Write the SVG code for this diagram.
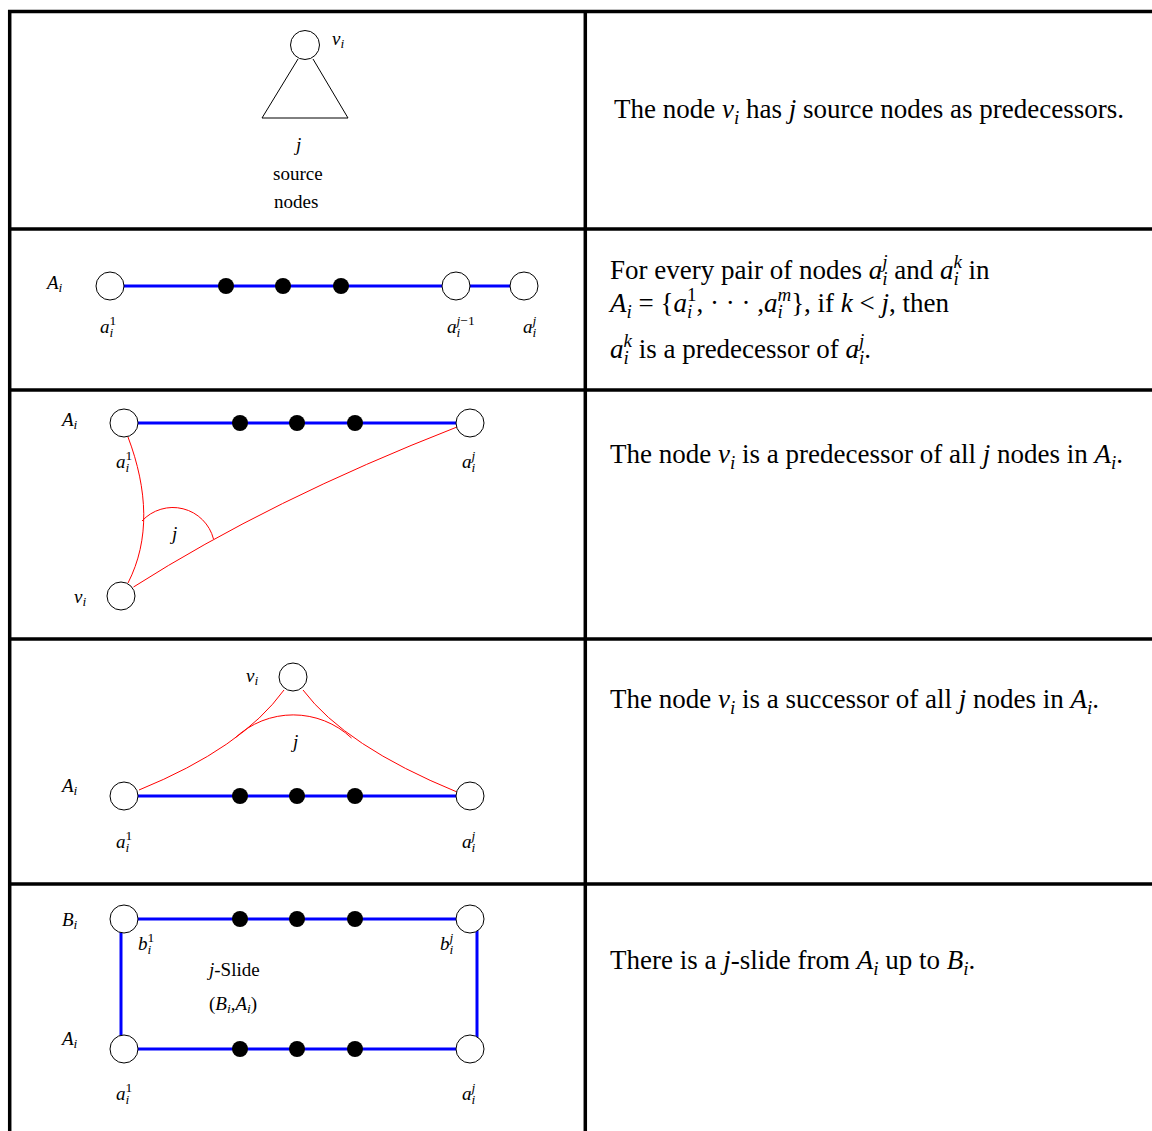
<svg xmlns="http://www.w3.org/2000/svg" width="1152" height="1131" viewBox="0 0 1152 1131">
<style>
text{font-family:"Liberation Serif","Times New Roman",serif;fill:#000}
.d{font-size:19px}
.p{font-size:27px}
.it{font-style:italic}
.sb{font-size:13.5px}
.sp{font-size:19px}
.grid{stroke:#000;stroke-width:3.5;fill:none}
.node{fill:#fff;stroke:#000;stroke-width:1}
.dot{fill:#000}
.blue{stroke:#0000ff;stroke-width:3;fill:none}
.red{stroke:#ff0000;stroke-width:1;fill:none}
.tri{stroke:#000;stroke-width:1;fill:none}
</style>
<rect width="1152" height="1131" fill="#fff"/>

<g id="table">
<line class="grid" x1="8" y1="11.5" x2="1152" y2="11.5"/>
<line class="grid" x1="9.7" y1="10" x2="9.7" y2="1131"/>
<line class="grid" x1="585.3" y1="10" x2="585.3" y2="1131"/>
<line class="grid" x1="8" y1="229" x2="1152" y2="229"/>
<line class="grid" x1="8" y1="390" x2="1152" y2="390"/>
<line class="grid" x1="8" y1="639" x2="1152" y2="639"/>
<line class="grid" x1="8" y1="884" x2="1152" y2="884"/>
</g>

<g id="connectors">
<path class="tri" d="M298,59 L262,118 L348,118 L313,59"/>
<line class="blue" x1="110" y1="286" x2="524" y2="286"/>
<line class="blue" x1="124" y1="423" x2="470" y2="423"/>
<path class="red" d="M128,437 C148,490 150,540 128,583"/>
<path class="red" d="M133.5,587 Q270,500 457,427"/>
<path class="red" d="M142,521 A42,42 0 0 1 213.5,539"/>
<line class="blue" x1="124" y1="796" x2="470" y2="796"/>
<path class="red" d="M284,690 Q242,748 139,790"/>
<path class="red" d="M303,690 Q345,746 457,792"/>
<path class="red" d="M235,738 A85,85 0 0 1 351.5,738"/>
<line class="blue" x1="124" y1="919" x2="470" y2="919"/>
<line class="blue" x1="124" y1="1049" x2="470" y2="1049"/>
<line class="blue" x1="121" y1="919" x2="121" y2="1049"/>
<line class="blue" x1="477" y1="919" x2="477" y2="1049"/>
</g>

<!-- Row 1 -->
<g id="r1-v">
<circle class="node" cx="305" cy="45" r="14.5"/>
<text class="d" x="332" y="45"><tspan class="it">v</tspan><tspan class="it sb" dy="3">i</tspan></text>
</g>
<g id="r1-labels">
<text class="d it" x="296" y="151">j</text>
<text class="d" x="273" y="180">source</text>
<text class="d" x="274" y="208">nodes</text>
</g>
<g id="r1-text">
<text class="p" x="614" y="118">The node <tspan class="it">v</tspan><tspan class="it sp" dy="6">i</tspan><tspan dy="-6"> has </tspan><tspan class="it">j</tspan> source nodes as predecessors.</text>
</g>

<!-- Row 2 -->
<g id="r2-A"><text class="d" x="47" y="289"><tspan class="it">A</tspan><tspan class="it sb" dy="3">i</tspan></text></g>
<g id="r2-a1">
<circle class="node" cx="110" cy="286" r="14"/>
<text class="d" x="100" y="333"><tspan class="it">a</tspan><tspan class="it sb" dy="4">i</tspan><tspan class="sb" dx="-3.75" dy="-12">1</tspan></text>
</g>
<g id="r2-dots">
<circle class="dot" cx="226" cy="286" r="8"/>
<circle class="dot" cx="283" cy="286" r="8"/>
<circle class="dot" cx="341" cy="286" r="8"/>
</g>
<g id="r2-aj1">
<circle class="node" cx="456" cy="286" r="14"/>
<text class="d" x="447" y="333"><tspan class="it">a</tspan><tspan class="it sb" dy="4">i</tspan><tspan class="it sb" dx="-3.75" dy="-12">j</tspan><tspan class="sb">−1</tspan></text>
</g>
<g id="r2-aj">
<circle class="node" cx="524" cy="286" r="14"/>
<text class="d" x="523" y="333"><tspan class="it">a</tspan><tspan class="it sb" dy="4">i</tspan><tspan class="it sb" dx="-3.75" dy="-12">j</tspan></text>
</g>
<g id="r2-text">
<text class="p" x="610" y="279">For every pair of nodes <tspan class="it">a</tspan><tspan class="it sp" dy="6">i</tspan><tspan class="it sp" dx="-5.3" dy="-17">j</tspan><tspan dy="11"> and </tspan><tspan class="it">a</tspan><tspan class="it sp" dy="6">i</tspan><tspan class="it sp" dx="-5.3" dy="-17">k</tspan><tspan dy="11"> in</tspan></text>
<text class="p" x="610" y="312"><tspan class="it">A</tspan><tspan class="it sp" dy="6">i</tspan><tspan dy="-6"> = {</tspan><tspan class="it">a</tspan><tspan class="it sp" dy="6">i</tspan><tspan class="sp" dx="-5.3" dy="-17">1</tspan><tspan dy="11">, · · · ,</tspan><tspan class="it">a</tspan><tspan class="it sp" dy="6">i</tspan><tspan class="it sp" dx="-5.3" dy="-17">m</tspan><tspan dy="11">}, if </tspan><tspan class="it">k</tspan> &lt; <tspan class="it">j</tspan>, then</text>
<text class="p" x="610" y="358"><tspan class="it">a</tspan><tspan class="it sp" dy="6">i</tspan><tspan class="it sp" dx="-5.3" dy="-17">k</tspan><tspan dy="11"> is a predecessor of </tspan><tspan class="it">a</tspan><tspan class="it sp" dy="6">i</tspan><tspan class="it sp" dx="-5.3" dy="-17">j</tspan><tspan dy="11">.</tspan></text>
</g>

<!-- Row 3 -->
<g id="r3-A"><text class="d" x="62" y="426"><tspan class="it">A</tspan><tspan class="it sb" dy="3">i</tspan></text></g>
<g id="r3-a1">
<circle class="node" cx="124" cy="423" r="14"/>
<text class="d" x="116" y="468"><tspan class="it">a</tspan><tspan class="it sb" dy="4">i</tspan><tspan class="sb" dx="-3.75" dy="-12">1</tspan></text>
</g>
<g id="r3-dots">
<circle class="dot" cx="240" cy="423" r="8"/>
<circle class="dot" cx="297" cy="423" r="8"/>
<circle class="dot" cx="355" cy="423" r="8"/>
</g>
<g id="r3-aj">
<circle class="node" cx="470" cy="423" r="14"/>
<text class="d" x="462" y="468"><tspan class="it">a</tspan><tspan class="it sb" dy="4">i</tspan><tspan class="it sb" dx="-3.75" dy="-12">j</tspan></text>
</g>
<g id="r3-v">
<circle class="node" cx="121" cy="596" r="14"/>
<text class="d" x="74" y="603"><tspan class="it">v</tspan><tspan class="it sb" dy="3">i</tspan></text>
</g>
<g id="r3-j"><text class="d it" x="172" y="540">j</text></g>
<g id="r3-text">
<text class="p" x="610" y="463">The node <tspan class="it">v</tspan><tspan class="it sp" dy="6">i</tspan><tspan dy="-6"> is a predecessor of all </tspan><tspan class="it">j</tspan> nodes in <tspan class="it">A</tspan><tspan class="it sp" dy="6">i</tspan><tspan dy="-6">.</tspan></text>
</g>

<!-- Row 4 -->
<g id="r4-v">
<circle class="node" cx="293" cy="677" r="14"/>
<text class="d" x="246" y="682"><tspan class="it">v</tspan><tspan class="it sb" dy="3">i</tspan></text>
</g>
<g id="r4-j"><text class="d it" x="293" y="748">j</text></g>
<g id="r4-A"><text class="d" x="62" y="792"><tspan class="it">A</tspan><tspan class="it sb" dy="3">i</tspan></text></g>
<g id="r4-a1">
<circle class="node" cx="124" cy="796" r="14"/>
<text class="d" x="116" y="848"><tspan class="it">a</tspan><tspan class="it sb" dy="4">i</tspan><tspan class="sb" dx="-3.75" dy="-12">1</tspan></text>
</g>
<g id="r4-dots">
<circle class="dot" cx="240" cy="796" r="8"/>
<circle class="dot" cx="297" cy="796" r="8"/>
<circle class="dot" cx="355" cy="796" r="8"/>
</g>
<g id="r4-aj">
<circle class="node" cx="470" cy="796" r="14"/>
<text class="d" x="462" y="848"><tspan class="it">a</tspan><tspan class="it sb" dy="4">i</tspan><tspan class="it sb" dx="-3.75" dy="-12">j</tspan></text>
</g>
<g id="r4-text">
<text class="p" x="610" y="708">The node <tspan class="it">v</tspan><tspan class="it sp" dy="6">i</tspan><tspan dy="-6"> is a successor of all </tspan><tspan class="it">j</tspan> nodes in <tspan class="it">A</tspan><tspan class="it sp" dy="6">i</tspan><tspan dy="-6">.</tspan></text>
</g>

<!-- Row 5 -->
<g id="r5-B"><text class="d" x="62" y="926"><tspan class="it">B</tspan><tspan class="it sb" dy="3">i</tspan></text></g>
<g id="r5-b1">
<circle class="node" cx="124" cy="919" r="14"/>
<text class="d" x="138" y="950"><tspan class="it">b</tspan><tspan class="it sb" dy="4">i</tspan><tspan class="sb" dx="-3.75" dy="-12">1</tspan></text>
</g>
<g id="r5-bdots">
<circle class="dot" cx="240" cy="919" r="8"/>
<circle class="dot" cx="297" cy="919" r="8"/>
<circle class="dot" cx="355" cy="919" r="8"/>
</g>
<g id="r5-bj">
<circle class="node" cx="470" cy="919" r="14"/>
<text class="d" x="440" y="950"><tspan class="it">b</tspan><tspan class="it sb" dy="4">i</tspan><tspan class="it sb" dx="-3.75" dy="-12">j</tspan></text>
</g>
<g id="r5-slide">
<text class="d" x="209" y="976"><tspan class="it">j</tspan>-Slide</text>
<text class="d" x="209" y="1010">(<tspan class="it">B</tspan><tspan class="it sb" dy="3">i</tspan><tspan dy="-3">,</tspan><tspan class="it">A</tspan><tspan class="it sb" dy="3">i</tspan><tspan dy="-3">)</tspan></text>
</g>
<g id="r5-A"><text class="d" x="62" y="1045"><tspan class="it">A</tspan><tspan class="it sb" dy="3">i</tspan></text></g>
<g id="r5-a1">
<circle class="node" cx="124" cy="1049" r="14"/>
<text class="d" x="116" y="1100"><tspan class="it">a</tspan><tspan class="it sb" dy="4">i</tspan><tspan class="sb" dx="-3.75" dy="-12">1</tspan></text>
</g>
<g id="r5-adots">
<circle class="dot" cx="240" cy="1049" r="8"/>
<circle class="dot" cx="297" cy="1049" r="8"/>
<circle class="dot" cx="355" cy="1049" r="8"/>
</g>
<g id="r5-aj">
<circle class="node" cx="470" cy="1049" r="14"/>
<text class="d" x="462" y="1100"><tspan class="it">a</tspan><tspan class="it sb" dy="4">i</tspan><tspan class="it sb" dx="-3.75" dy="-12">j</tspan></text>
</g>
<g id="r5-text">
<text class="p" x="610" y="969">There is a <tspan class="it">j</tspan>-slide from <tspan class="it">A</tspan><tspan class="it sp" dy="6">i</tspan><tspan dy="-6"> up to </tspan><tspan class="it">B</tspan><tspan class="it sp" dy="6">i</tspan><tspan dy="-6">.</tspan></text>
</g>
</svg>
